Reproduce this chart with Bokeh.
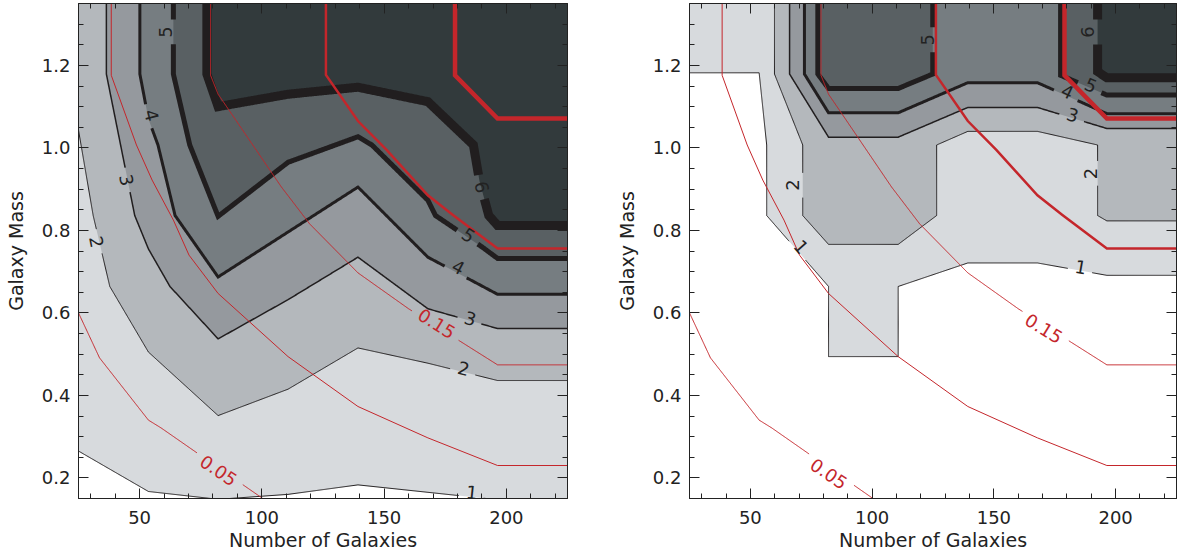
import numpy as np
from bokeh.plotting import figure
from bokeh.models import Range1d, LinearAxis, FixedTicker, ColumnDataSource, PrintfTickFormatter
from bokeh.layouts import row
from bokeh.core.properties import value
from bokeh.embed import file_html
from bokeh.resources import INLINE

# ---------------- axes / ticks ----------------
X_RANGE = (25, 225)
Y_RANGE = (0.15, 1.35)
x_major = [50, 100, 150, 200]
x_minor = [30, 40, 60, 70, 80, 90, 110, 120, 130, 140, 160, 170, 180, 190, 210, 220]
y_major = [0.2, 0.4, 0.6, 0.8, 1.0, 1.2]
y_minor = [0.15, 0.25, 0.3, 0.35, 0.45, 0.5, 0.55, 0.65, 0.7, 0.75, 0.85, 0.9, 0.95,
           1.05, 1.1, 1.15, 1.25, 1.3, 1.35]
x_title = "Number of Galaxies"
y_title = "Galaxy Mass"

# ---------------- contour levels ----------------
levels = [1, 2, 3, 4, 5, 6]
level_fill = ["#d7dadd", "#b4b8bc", "#95999e", "#767d81", "#596063", "#323a3c"]
level_width = [1, 1, 1.5, 3, 5, 9]

# ---------------- left panel contour lines (x, y) ----------------
L1_x = [25, 53.6, 82.1, 110.7, 139.3, 167.9, 196.4, 225]
L1_y = [0.265, 0.167, 0.148, 0.160, 0.183, 0.165, 0.147, 0.140]
L2_x = [25, 31, 37.8, 53.6, 82.1, 110.7, 139.3, 167.9, 196.4, 225]
L2_y = [1.043, 0.836, 0.664, 0.505, 0.351, 0.415, 0.515, 0.478, 0.436, 0.436]
L3_x = [36.4, 36.4, 48, 53.6, 62.4, 82.1, 110.7, 139.3, 167.9, 196.4, 225]
L3_y = [1.35, 1.179, 0.836, 0.755, 0.664, 0.537, 0.632, 0.735, 0.610, 0.562, 0.562]
L4_x = [50.1, 50.1, 53.6, 57.5, 64.5, 82.1, 110.7, 139.3, 167.9, 196.4, 225]
L4_y = [1.35, 1.179, 1.07, 1.007, 0.836, 0.687, 0.796, 0.905, 0.735, 0.645, 0.645]
L5_x = [63.8, 63.8, 70.5, 82.1, 110.7, 139.3, 145, 167.9, 171, 190, 196.4, 225]
L5_y = [1.35, 1.179, 1.007, 0.834, 0.965, 1.027, 1.007, 0.873, 0.836, 0.76, 0.732, 0.732]
L6_x = [77.5, 77.5, 82.1, 110.7, 139.3, 167.9, 186.5, 189, 192.8, 196.4, 225]
L6_y = [1.35, 1.179, 1.10, 1.13, 1.147, 1.112, 1.007, 0.92, 0.836, 0.812, 0.812]

# ---------------- right panel contour lines ----------------
R1_x = [25, 53.6, 56.7, 56.7, 82.1, 82.1, 110.7, 110.7, 139.3, 167.9, 196.4, 225]
R1_y = [1.182, 1.182, 1.007, 0.836, 0.664, 0.494, 0.494, 0.664, 0.721, 0.721, 0.691, 0.691]
R2_x = [59.9, 59.9, 71.5, 71.5, 82.1, 110.7, 126.5, 126.5, 139.3, 167.9, 192.6, 192.6, 196.4, 225]
R2_y = [1.35, 1.179, 1.007, 0.836, 0.766, 0.766, 0.836, 1.007, 1.04, 1.04, 1.007, 0.836, 0.823, 0.823]
R3_x = [66.1, 66.1, 82.1, 110.7, 139.3, 167.9, 196.4, 225]
R3_y = [1.35, 1.179, 1.026, 1.026, 1.098, 1.098, 1.047, 1.047]
R4_x = [72.2, 72.2, 82.1, 110.7, 139.3, 167.9, 196.4, 225]
R4_y = [1.35, 1.179, 1.085, 1.085, 1.158, 1.158, 1.083, 1.083]
R5a_x = [77.7, 77.7, 82.1, 110.7, 124.9, 124.9]
R5a_y = [1.35, 1.179, 1.144, 1.144, 1.179, 1.35]
R5b_x = [177.4, 177.4, 196.4, 225]
R5b_y = [1.35, 1.176, 1.128, 1.128]
R6_x = [192.6, 192.6, 196.4, 225]
R6_y = [1.35, 1.185, 1.17, 1.17]

# ---------------- red contours (same in both panels) ----------------
red_a_x = [25, 33.6, 53.6, 58.8, 82.1, 104]
red_a_y = [0.6, 0.491, 0.34, 0.321, 0.225, 0.135]
red_b_x = [38.4, 38.4, 48.7, 55.1, 63.8, 70.2, 82.1, 110.7, 139.3, 167.9, 196.4, 225]
red_b_y = [1.35, 1.176, 1.007, 0.922, 0.825, 0.74, 0.647, 0.494, 0.373, 0.297, 0.23, 0.23]
red_c_x = [79, 79, 82.1, 88, 108, 119.5, 139.3, 160, 196.4, 225]
red_c_y = [1.35, 1.176, 1.13, 1.079, 0.905, 0.816, 0.697, 0.61, 0.474, 0.474]
red_d_x = [126.2, 126.2, 139.3, 151, 167.9, 178, 196.4, 225]
red_d_y = [1.35, 1.177, 1.065, 0.995, 0.885, 0.838, 0.756, 0.756]
red_e_x = [179, 179, 196.4, 225]
red_e_y = [1.35, 1.176, 1.071, 1.071]
red_width = [1, 1, 1, 2.5, 4.5]
RED = "#c4262b"
BLACK = "#211e1f"

# ---------------- contour labels ----------------
L_lab_text = ["2", "3", "4", "5", "6", "5", "4", "3", "2", "1", "0.15", "0.05"]
L_lab_x = [32.3, 44.6, 54.9, 60.4, 190.0, 184.5, 180.4, 185.2, 182.5, 185.9, 171.5, 82.3]
L_lab_y = [0.772, 0.922, 1.079, 1.281, 0.905, 0.788, 0.711, 0.586, 0.465, 0.165, 0.574, 0.218]
L_lab_ang = [-79, -79, -75, 90, -77, -34, -28, -16, -14, -6, -32, -34]
L_lab_line = ["k2", "k3", "k4", "k5", "k6", "k5", "k4", "k3", "k2", "k1", "rc", "ra"]

R_lab_text = ["5", "6", "5", "4", "3", "2", "2", "1", "1", "0.15", "0.05"]
R_lab_x = [122.9, 188.4, 189.8, 180.2, 182.3, 67.4, 189.8, 70.9, 185.7, 170.5, 82.2]
R_lab_y = [1.262, 1.281, 1.152, 1.136, 1.080, 0.910, 0.938, 0.760, 0.711, 0.562, 0.210]
R_lab_ang = [90, 90, -23, -25, -17, 90, 90, -49, -10, -32, -34]
R_lab_line = ["k5a", "k6", "k5b", "k4", "k3", "k2", "k2", "k1", "k1", "rc", "ra"]

SX, SY = 2.43, 412.0   # screen px per data unit (for label gaps)
X0, X1 = X_RANGE
Y0, Y1 = Y_RANGE


def perim(x, y):
    u = min(max((x - X0) / (X1 - X0), 0), 1)
    v = min(max((y - Y0) / (Y1 - Y0), 0), 1)
    d = {"b": v, "r": 1 - u, "t": 1 - v, "l": u}
    e = min(d, key=d.get)
    return {"b": u, "r": 1 + v, "t": 2 + (1 - u), "l": 3 + (1 - v)}[e]


CORNERS = [(X0, Y0), (X1, Y0), (X1, Y1), (X0, Y1)]


def close_region(xs, ys):
    s_end = perim(xs[-1], ys[-1])
    s_start = perim(xs[0], ys[0])
    if s_start < s_end:
        s_start += 4
    px, py = list(xs), list(ys)
    for k in range(int(np.floor(s_end)) + 1, int(np.ceil(s_start))):
        cx, cy = CORNERS[k % 4]
        px.append(cx)
        py.append(cy)
    return px, py


def gapped(xs, ys, labs):
    if not labs:
        return list(xs), list(ys)
    ox, oy = [], []
    for i in range(len(xs) - 1):
        x0, y0, x1, y1 = xs[i], ys[i], xs[i + 1], ys[i + 1]
        n = int(np.hypot((x1 - x0) * SX, (y1 - y0) * SY)) + 2
        t = np.linspace(0.0, 1.0, n)
        if i > 0:
            t = t[1:]
        ox.extend(x0 + (x1 - x0) * t)
        oy.extend(y0 + (y1 - y0) * t)
    ox = np.array(ox, dtype=float)
    oy = np.array(oy, dtype=float)
    mask = np.zeros(len(ox), dtype=bool)
    for (lx, ly, ang, a, b) in labs:
        th = np.radians(ang)
        dx = (ox - lx) * SX
        dy = (oy - ly) * SY
        along = dx * np.cos(th) + dy * np.sin(th)
        across = -dx * np.sin(th) + dy * np.cos(th)
        mask |= (np.abs(along) < a) & (np.abs(across) < b)
    ox[mask] = np.nan
    oy[mask] = np.nan
    return ox, oy


def style_axis(ax, major, minor, labels=True):
    ax.ticker = FixedTicker(ticks=major, minor_ticks=minor)
    ax.major_tick_in = 10
    ax.major_tick_out = 0
    ax.minor_tick_in = 5
    ax.minor_tick_out = 0
    ax.axis_line_color = "#222222"
    ax.major_tick_line_color = "#222222"
    ax.minor_tick_line_color = "#222222"
    ax.major_label_text_font = "DejaVu Sans"
    ax.major_label_text_color = "#222222"
    ax.axis_label_text_font = "DejaVu Sans"
    ax.axis_label_text_font_style = "normal"
    ax.axis_label_text_font_size = "19px"
    ax.axis_label_text_color = "#222222"
    if labels:
        ax.major_label_text_font_size = "18px"
    else:
        ax.major_label_text_font_size = "0px"
        ax.major_label_standoff = 0
        ax.major_label_overrides = {t: "" for t in major}


def build(width, left_border, right_border, lines, lab_text, lab_x, lab_y, lab_ang, lab_line):
    p = figure(width=width, height=557, x_range=Range1d(*X_RANGE), y_range=Range1d(*Y_RANGE),
               output_backend="svg", toolbar_location=None,
               min_border_left=left_border, min_border_right=right_border,
               min_border_top=3, min_border_bottom=59,
               x_axis_label=x_title, y_axis_label=y_title)
    p.grid.visible = False
    p.outline_line_color = "#222222"
    p.outline_line_width = 1
    p.background_fill_color = "white"
    p.border_fill_color = "white"

    style_axis(p.xaxis[0], x_major, x_minor)
    style_axis(p.yaxis[0], y_major, y_minor)
    p.yaxis[0].formatter = PrintfTickFormatter(format="%.1f")
    p.xaxis[0].major_label_standoff = 12
    p.xaxis[0].axis_label_standoff = 2
    p.yaxis[0].major_label_standoff = 8
    p.yaxis[0].axis_label_standoff = 12
    top = LinearAxis()
    style_axis(top, x_major, x_minor, labels=False)
    p.add_layout(top, "above")
    right = LinearAxis()
    style_axis(right, y_major, y_minor, labels=False)
    p.add_layout(right, "right")

    # label gap definitions per line key
    gaps = {}
    for t, x, y, a, key in zip(lab_text, lab_x, lab_y, lab_ang, lab_line):
        half = 27 if len(t) > 1 else 12
        gaps.setdefault(key, []).append((x, y, a, half, 13))

    # filled bands
    for i, lev in enumerate(levels):
        for key, xs, ys in lines[lev]:
            rx, ry = close_region(xs, ys)
            p.patch(rx, ry, fill_color=level_fill[i], line_color=None)
    # black contour lines
    for i, lev in enumerate(levels):
        for key, xs, ys in lines[lev]:
            gx, gy = gapped(xs, ys, gaps.get(key, []))
            p.line(gx, gy, line_color=BLACK, line_width=level_width[i], line_join="miter")
    # red contour lines
    reds = [("ra", red_a_x, red_a_y), ("rb", red_b_x, red_b_y), ("rc", red_c_x, red_c_y),
            ("rd", red_d_x, red_d_y), ("re", red_e_x, red_e_y)]
    for j, (key, xs, ys) in enumerate(reds):
        gx, gy = gapped(xs, ys, gaps.get(key, []))
        p.line(gx, gy, line_color=RED, line_width=red_width[j], line_join="miter")

    colors = [RED if k.startswith("r") else "#222222" for k in lab_line]
    src = ColumnDataSource(dict(x=lab_x, y=lab_y, text=lab_text, angle=lab_ang, color=colors))
    p.text(x="x", y="y", text="text", angle="angle", angle_units="deg", source=src,
           text_align="center", text_baseline="middle", text_font=value("DejaVu Sans"),
           text_font_size=value("18px"), text_color="color")
    return p


left_lines = {
    1: [("k1", L1_x, L1_y)], 2: [("k2", L2_x, L2_y)], 3: [("k3", L3_x, L3_y)],
    4: [("k4", L4_x, L4_y)], 5: [("k5", L5_x, L5_y)], 6: [("k6", L6_x, L6_y)],
}
right_lines = {
    1: [("k1", R1_x, R1_y)], 2: [("k2", R2_x, R2_y)], 3: [("k3", R3_x, R3_y)],
    4: [("k4", R4_x, R4_y)], 5: [("k5a", R5a_x, R5a_y), ("k5b", R5b_x, R5b_y)],
    6: [("k6", R6_x, R6_y)],
}

p1 = build(600, 78, 33, left_lines, L_lab_text, L_lab_x, L_lab_y, L_lab_ang, L_lab_line)
p2 = build(577, 89, 1, right_lines, R_lab_text, R_lab_x, R_lab_y, R_lab_ang, R_lab_line)

layout = row(p1, p2)
open("out.html", "w").write(file_html(layout, INLINE))
